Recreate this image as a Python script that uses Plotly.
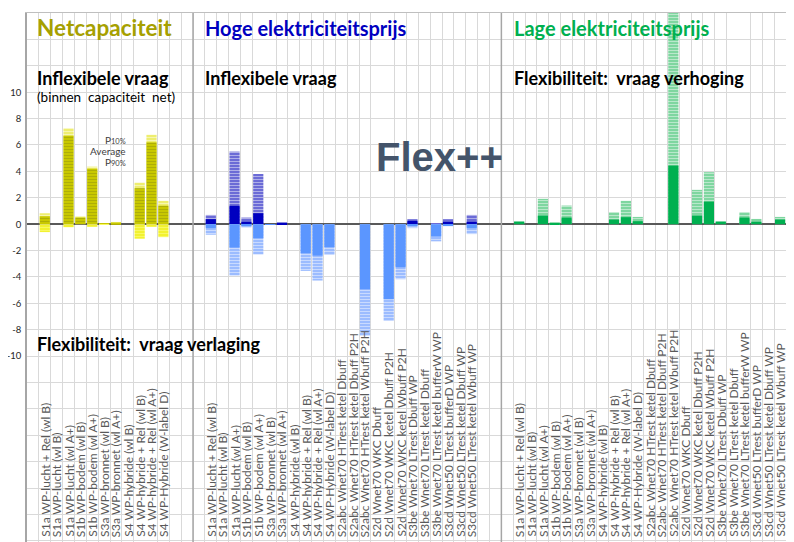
import plotly.graph_objects as go

# ---------------- data ----------------
categories = [
    "S1a WP-lucht + Rel (wl B)", "S1a WP-lucht (wl B)", "S1a WP-lucht (wl A+)",
    "S1b WP-bodem (wl B)", "S1b WP-bodem (wl A+)", "S3a WP-bronnet (wl B)",
    "S3a WP-bronnet (wl A+)", "S4 WP-hybride (wl B)", "S4 WP-hybride + Rel (wl B)",
    "S4 WP-hybride + Rel (wl A+)", "S4 WP-Hybride (W-label D)",
    "S2abc Wnet70 HTrest ketel Dbuff", "S2abc Wnet70 HTrest ketel Dbuff P2H",
    "S2abc Wnet70 HTrest ketel Wbuff P2H", "S2d Wnet70 WKC Dbuff",
    "S2d Wnet70 WKC ketel Dbuff P2H", "S2d Wnet70 WKC ketel Wbuff P2H",
    "S3be Wnet70 LTrest Dbuff WP", "S3be Wnet70 LTrest ketel Dbuff",
    "S3be Wnet70 LTrest ketel bufferW WP", "S3cd Wnet50 LTrest bufferD WP",
    "S3cd Wnet50 LTrest ketel Dbuff WP", "S3cd Wnet50 LTrest ketel Wbuff WP",
]
net_categories = categories[:11]

# Netcapaciteit (inflexibele vraag)
net_p10 = [0.83, 0, 7.27, 0.58, 4.36, 0.03, 0.17, 0, 3.15, 6.77, 1.77]
net_avg = [0.60, 0, 6.70, 0.50, 4.20, 0.02, 0.12, 0, 2.73, 6.20, 1.40]
net_p90 = [-0.60, 0, -0.23, 0, -0.20, -0.05, 0, 0, -1.10, -0.20, -0.98]

# Hoge elektriciteitsprijs
hoog_pos_p10 = [0.70, 0, 5.50, 0.50, 3.80, 0, 0.15, 0, 0, 0, 0, 0, 0, 0, 0, 0, 0,
                0.38, 0, 0.05, 0.38, 0, 0.70]
hoog_pos_avg = [0.38, 0, 1.39, 0.20, 0.83, 0, 0.05, 0, 0, 0, 0, 0, 0, 0, 0, 0, 0,
                0.25, 0, 0, 0.20, 0, 0.20]
hoog_neg_avg = [-0.30, 0, -1.77, -0.10, -1.06, -0.03, 0, 0, -2.20, -2.38, -1.74, 0, 0,
                -4.93, 0, -5.68, -3.26, -0.10, 0, -0.94, -0.10, 0, -0.30]
hoog_neg_p90 = [-0.80, 0, -3.90, -0.26, -2.30, -0.05, 0, 0, -3.54, -4.27, -2.33, 0, 0,
                -8.46, 0, -7.33, -4.17, -0.30, 0, -1.30, -0.15, 0, -0.75]

# Lage elektriciteitsprijs
laag_p10 = [0.20, 0, 1.92, 0.15, 1.41, 0, 0, 0, 0.91, 1.77, 0.55, 0, 0, 16.5, 0,
            2.60, 3.94, 0.20, 0, 0.91, 0.40, 0, 0.55]
laag_avg = [0.20, 0, 0.66, 0.05, 0.50, 0, 0, 0, 0.35, 0.53, 0.23, 0, 0, 4.44, 0,
            0.66, 1.71, 0.20, 0, 0.50, 0.20, 0, 0.35]

y_labels = [10, 8, 6, 4, 2, 0, -2, -4, -6, -8, -10]

# panel offsets (slots on a common axis)
NET_OFF, HOOG_OFF, LAAG_OFF, TOTAL = 0, 14, 40, 64

def xs(offset, n):
    return [offset + 1 + i + 0.5 for i in range(n)]

x_net = xs(NET_OFF, len(net_categories))
x_hoog = xs(HOOG_OFF, len(categories))
x_laag = xs(LAAG_OFF, len(categories))

W = 0.86
fig = go.Figure()

def striped(x, y, color, fg, size=3, sol=0.35):
    fig.add_trace(go.Bar(
        x=x, y=y, width=W, marker=dict(color=color, line=dict(width=0),
        pattern=dict(shape="-", fgcolor=fg, size=size, solidity=sol)),
        showlegend=False, hoverinfo="skip"))

def solid(x, y, color):
    fig.add_trace(go.Bar(x=x, y=y, width=W, marker=dict(color=color, line=dict(width=0)),
                         showlegend=False, hoverinfo="skip"))

# Netcapaciteit
striped(x_net, net_p10, "#eeee70", "#ffffff", 3, 0.3)
striped(x_net, net_avg, "#c8c800", "#8f8f10", 3, 0.3)
striped(x_net, net_p90, "#f2f230", "#ffffa0", 3, 0.3)

# Hoog
striped(x_hoog, hoog_pos_p10, "#6b6bd6", "#ffffff", 3, 0.3)
solid(x_hoog, hoog_pos_avg, "#0000c0")
striped(x_hoog, hoog_neg_p90, "#9cbcff", "#ffffff", 3, 0.3)
solid(x_hoog, hoog_neg_avg, "#5b96ff")

# Laag
striped(x_laag, laag_p10, "#7fd6a0", "#ffffff", 3, 0.3)
solid(x_laag, laag_avg, "#00b050")

# ---------------- layout ----------------
# the page body adds an 8px offset, so the figure is 8px smaller than the window
grid = "#d9d9d9"
fig.update_layout(
    width=786, height=534,
    margin=dict(l=19, r=8, t=5, b=0),
    paper_bgcolor="white", plot_bgcolor="white",
    barmode="overlay", showlegend=False,
    font=dict(family="Lato, 'Open Sans', sans-serif", color="#000000"),
    xaxis=dict(
        range=[0, TOTAL], showgrid=False, zeroline=False, showticklabels=False,
        ticks="",
        minor=dict(tick0=0, dtick=1, showgrid=True, gridcolor=grid, gridwidth=1),
        showline=True, linecolor="#bfbfbf", mirror=True,
        automargin=False,
    ),
    yaxis=dict(
        range=[-24.08, 16], tickmode="array", tickvals=y_labels,
        ticktext=[str(v) for v in y_labels],
        showgrid=True, gridcolor=grid, ticks="", 
        tickfont=dict(size=9.5, color="#262626", family="Lato, sans-serif"),
        ticklabelstandoff=2,
        minor=dict(tick0=0, dtick=2, showgrid=True, gridcolor=grid),
        zeroline=True, zerolinecolor="#595959", zerolinewidth=1.5,
        showline=True, linecolor="#a6a6a6", linewidth=1.5, mirror=True,
        automargin=False,
    ),
)

for xsep in (HOOG_OFF, LAAG_OFF):
    fig.add_shape(type="line", xref="x", yref="paper", x0=xsep, x1=xsep, y0=0, y1=1,
                  line=dict(color="#a6a6a6", width=1.5))

# category labels (rotated, reading upward from the bottom of the plot)
for xv, name in zip(x_net + x_hoog + x_laag, net_categories + categories + categories):
    fig.add_annotation(x=xv, y=0, xref="x", yref="paper", text=name, showarrow=False,
                       textangle=-90, xanchor="center", yanchor="bottom", yshift=3,
                       font=dict(size=12, color="#595959", family="Lato, sans-serif"))

def txt(x, y, s, size, color="#000000", bold=True, xanchor="left", family="Lato, sans-serif"):
    fig.add_annotation(x=x, y=y, xref="x", yref="y", text=f"<b>{s}</b>" if bold else s,
                       showarrow=False, xanchor=xanchor, yanchor="middle",
                       font=dict(size=size, color=color, family=family))

txt(0.67, 14.87, "Netcapaciteit", 22.5, "#a6a000")
txt(14.84, 14.87, "Hoge elektriciteitsprijs", 20, "#0000c0")
txt(40.9, 14.87, "Lage elektriciteitsprijs", 20, "#00b050")
txt(0.67, 11.1, "Inflexibele vraag", 18)
txt(0.67, 9.64, "(binnen  capaciteit  net)", 13.5, bold=False)
txt(14.84, 11.1, "Inflexibele vraag", 18)
txt(40.9, 11.1, "Flexibiliteit:  vraag verhoging", 18)
txt(0.67, -9.07, "Flexibiliteit:  vraag verlaging", 18)
txt(29.3, 5.1, "Flex++", 40, "#44546a", family="Arial, 'Liberation Sans', sans-serif")
small = "<span style='font-size:7.5px'>{}</span>"
txt(8.52, 6.39, "P" + small.format("10%"), 10, "#404040", bold=False, xanchor="right")
txt(8.52, 5.55, "Average", 10, "#404040", bold=False, xanchor="right")
txt(8.52, 4.70, "P" + small.format("90%"), 10, "#404040", bold=False, xanchor="right")

fig.write_html("out.html")
